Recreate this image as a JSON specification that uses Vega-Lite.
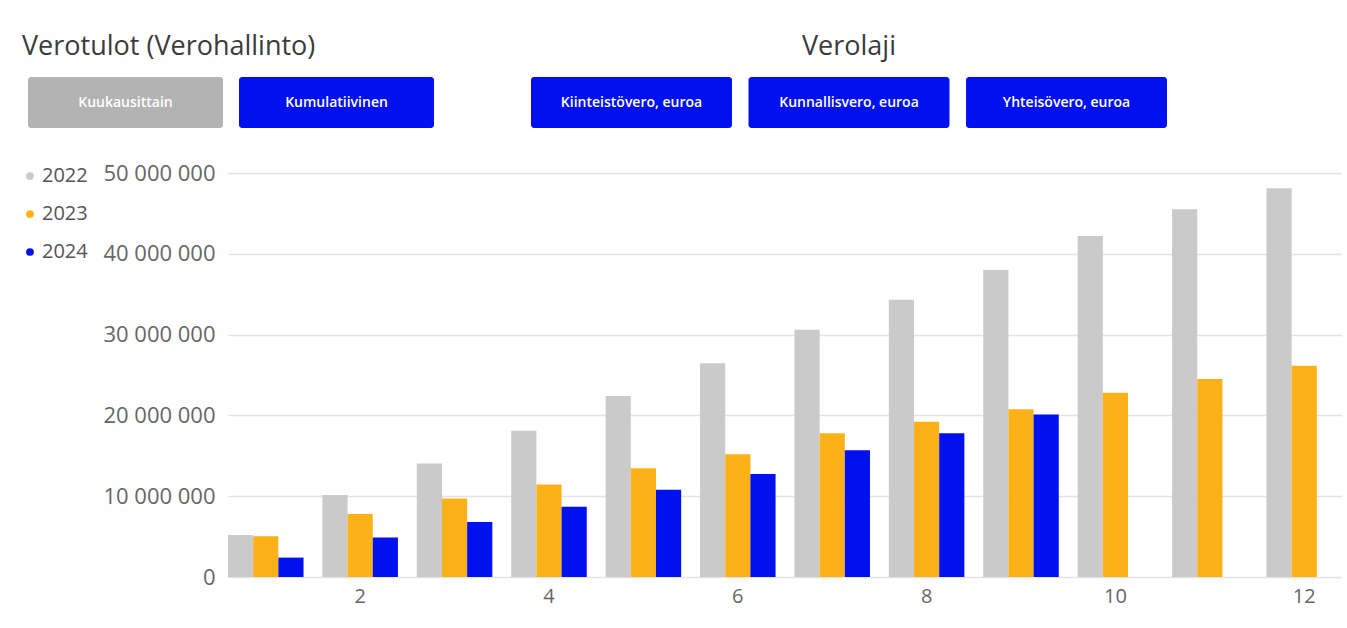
{
  "$schema": "https://vega.github.io/schema/vega-lite/v6.json",
  "background": "white",
  "padding": {"left": 20, "top": 33, "right": 0, "bottom": 10},
  "config": {
    "view": {"stroke": null},
    "font": "Open Sans",
    "locale": {"number": {"decimal": ",", "thousands": " ", "grouping": [3], "currency": ["", " €"]}},
    "title": {"fontSize": 27, "fontWeight": "normal", "color": "#3b3b3b", "font": "Open Sans"}
  },
  "datasets": {
    "napit_vasen": [
      {"nappi": "Kuukausittain", "tila": "ei valittu"},
      {"nappi": "Kumulatiivinen", "tila": "valittu"}
    ],
    "napit_oikea": [
      {"nappi": "Kiinteistövero, euroa", "tila": "valittu"},
      {"nappi": "Kunnallisvero, euroa", "tila": "valittu"},
      {"nappi": "Yhteisövero, euroa", "tila": "valittu"}
    ],
    "tulot": [
      {"kk": 1, "vuosi": "2022", "euroa": 5200000},
      {"kk": 2, "vuosi": "2022", "euroa": 10150000},
      {"kk": 3, "vuosi": "2022", "euroa": 14050000},
      {"kk": 4, "vuosi": "2022", "euroa": 18100000},
      {"kk": 5, "vuosi": "2022", "euroa": 22400000},
      {"kk": 6, "vuosi": "2022", "euroa": 26450000},
      {"kk": 7, "vuosi": "2022", "euroa": 30600000},
      {"kk": 8, "vuosi": "2022", "euroa": 34300000},
      {"kk": 9, "vuosi": "2022", "euroa": 38000000},
      {"kk": 10, "vuosi": "2022", "euroa": 42200000},
      {"kk": 11, "vuosi": "2022", "euroa": 45500000},
      {"kk": 12, "vuosi": "2022", "euroa": 48100000},
      {"kk": 1, "vuosi": "2023", "euroa": 5050000},
      {"kk": 2, "vuosi": "2023", "euroa": 7800000},
      {"kk": 3, "vuosi": "2023", "euroa": 9700000},
      {"kk": 4, "vuosi": "2023", "euroa": 11450000},
      {"kk": 5, "vuosi": "2023", "euroa": 13450000},
      {"kk": 6, "vuosi": "2023", "euroa": 15200000},
      {"kk": 7, "vuosi": "2023", "euroa": 17800000},
      {"kk": 8, "vuosi": "2023", "euroa": 19200000},
      {"kk": 9, "vuosi": "2023", "euroa": 20750000},
      {"kk": 10, "vuosi": "2023", "euroa": 22800000},
      {"kk": 11, "vuosi": "2023", "euroa": 24500000},
      {"kk": 12, "vuosi": "2023", "euroa": 26150000},
      {"kk": 1, "vuosi": "2024", "euroa": 2400000},
      {"kk": 2, "vuosi": "2024", "euroa": 4900000},
      {"kk": 3, "vuosi": "2024", "euroa": 6800000},
      {"kk": 4, "vuosi": "2024", "euroa": 8700000},
      {"kk": 5, "vuosi": "2024", "euroa": 10800000},
      {"kk": 6, "vuosi": "2024", "euroa": 12750000},
      {"kk": 7, "vuosi": "2024", "euroa": 15700000},
      {"kk": 8, "vuosi": "2024", "euroa": 17800000},
      {"kk": 9, "vuosi": "2024", "euroa": 20100000}
    ]
  },
  "columns": 1,
  "align": "none",
  "spacing": 34,
  "resolve": {"scale": {"color": "independent"}, "legend": {"color": "independent"}},
  "concat": [
    {
      "spacing": 97,
      "hconcat": [
        {
          "title": {"text": "Verotulot (Verohallinto)", "anchor": "start", "dx": -6, "offset": 16},
          "width": 406,
          "height": 51,
          "data": {"name": "napit_vasen"},
          "encoding": {
            "x": {"field": "nappi", "type": "nominal", "sort": null, "axis": null,
                  "scale": {"paddingInner": 0.076, "paddingOuter": 0}}
          },
          "layer": [
            {
              "mark": {"type": "bar", "cornerRadius": 3},
              "encoding": {
                "color": {"condition": {"test": "datum.tila == 'valittu'", "value": "#0010EE"}, "value": "#B3B3B3"}
              }
            },
            {
              "mark": {"type": "text", "baseline": "middle", "align": "center", "fontSize": 14, "fontWeight": 600, "color": "#ffffff"},
              "encoding": {"text": {"field": "nappi", "type": "nominal"}}
            }
          ]
        },
        {
          "title": {"text": "Verolaji", "anchor": "middle", "offset": 16},
          "width": 636,
          "height": 51,
          "data": {"name": "napit_oikea"},
          "encoding": {
            "x": {"field": "nappi", "type": "nominal", "sort": null, "axis": null,
                  "scale": {"paddingInner": 0.076, "paddingOuter": 0}}
          },
          "layer": [
            {
              "mark": {"type": "bar", "cornerRadius": 3},
              "encoding": {
                "color": {"condition": {"test": "datum.tila == 'valittu'", "value": "#0010EE"}, "value": "#B3B3B3"}
              }
            },
            {
              "mark": {"type": "text", "baseline": "middle", "align": "center", "fontSize": 14, "fontWeight": 600, "color": "#ffffff"},
              "encoding": {"text": {"field": "nappi", "type": "nominal"}}
            }
          ]
        }
      ]
    },
    {
      "spacing": 2,
      "resolve": {"scale": {"color": "independent"}, "legend": {"color": "independent"}},
      "hconcat": [
        {
          "width": 72,
          "height": 404,
          "data": {"name": "tulot"},
          "transform": [{"filter": "false"}],
          "mark": {"type": "circle"},
          "encoding": {
            "color": {
              "field": "vuosi", "type": "nominal",
              "scale": {"domain": ["2022", "2023", "2024"], "range": ["#CACACA", "#FDB119", "#0010EE"]},
              "legend": {"orient": "none", "legendX": -8, "legendY": -7, "title": null, "symbolType": "circle", "symbolSize": 60,
                         "symbolOpacity": 1, "labelFontSize": 20, "labelColor": "#555555", "rowPadding": 18, "labelOffset": 2}
            }
          }
        },
        {
          "width": 1114,
          "height": 404,
          "data": {"name": "tulot"},
          "mark": {"type": "bar"},
          "encoding": {
            "x": {
              "field": "kk", "type": "ordinal",
              "scale": {"paddingInner": 0.2, "paddingOuter": 0},
              "axis": {"values": [2, 4, 6, 8, 10, 12], "labelAngle": 0, "title": null, "domain": false, "ticks": false,
                       "labelFontSize": 20, "labelColor": "#666666", "labelPadding": 9, "grid": false}
            },
            "xOffset": {"field": "vuosi", "type": "nominal", "scale": {"paddingInner": 0, "paddingOuter": 0}},
            "y": {
              "field": "euroa", "type": "quantitative",
              "scale": {"domain": [0, 50000000]},
              "axis": {"title": null, "values": [0, 10000000, 20000000, 30000000, 40000000, 50000000], "format": ",d",
                       "domain": false, "ticks": false, "labelFontSize": 22, "labelColor": "#666666", "labelPadding": 13,
                       "gridColor": "#e3e3e3", "gridWidth": 1.5}
            },
            "color": {
              "field": "vuosi", "type": "nominal",
              "scale": {"domain": ["2022", "2023", "2024"], "range": ["#CACACA", "#FDB119", "#0010EE"]},
              "legend": null
            }
          }
        }
      ]
    }
  ]
}
